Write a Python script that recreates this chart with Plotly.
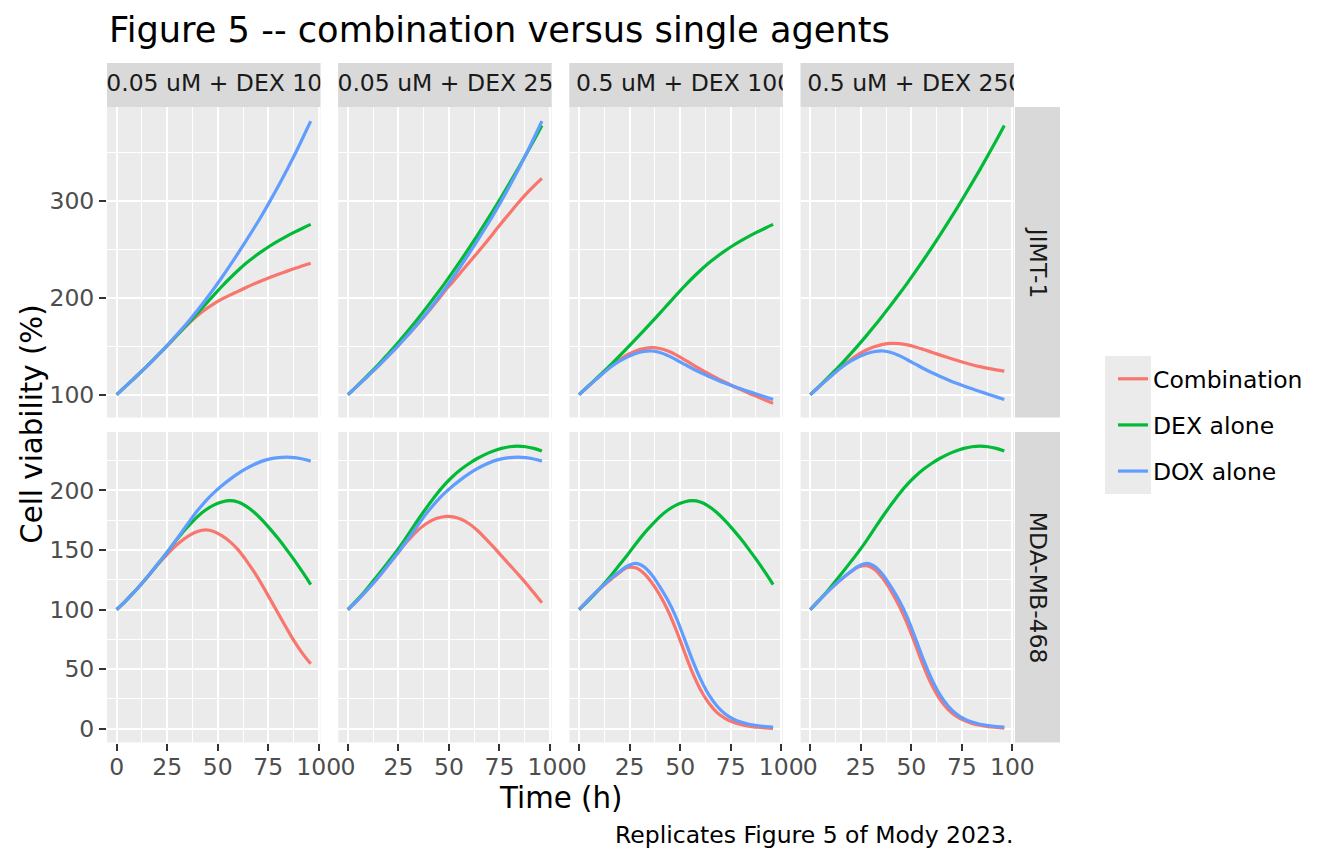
import plotly.graph_objects as go

# page has an 8px body margin; size the figure to fit the 1344x864 window
OFF = 8
W, H = 1344 - 2 * OFF, 864 - 2 * OFF

# ---------------- data ----------------
time_h = [0, 4, 8, 12, 16, 20, 24, 28, 32, 36, 40, 44, 48, 52, 56, 60, 64, 68, 72, 76, 80, 84, 88, 92, 96]

treatments = ["DOX 0.05 uM + DEX 100 nM", "DOX 0.05 uM + DEX 250 nM",
              "DOX 0.5 uM + DEX 100 nM", "DOX 0.5 uM + DEX 250 nM"]
cell_lines = ["JIMT-1", "MDA-MB-468"]
series_names = ["Combination", "DEX alone", "DOX alone"]
series_colors = ["#F8766D", "#00BA38", "#619CFF"]

x_ticks = [0, 25, 50, 75, 100]
y_ticks_jimt = [100, 200, 300]
y_ticks_mda = [0, 50, 100, 150, 200]

# JIMT-1
jimt_dox_005 = [100, 107.7, 115.5, 123.4, 131.5, 139.9, 148.5, 157.6, 167, 176.8, 187, 197.8, 209,
                220.8, 233, 245.6, 258.5, 271.8, 285.5, 300, 315, 330.8, 347, 364.3, 382]
jimt_dox_05 = [100, 107.7, 115, 122.3, 129, 134.5, 139, 142.4, 144.5, 145, 143.5, 140.2, 136,
               131.5, 127, 122.8, 119, 115.4, 112, 108.9, 106, 103.2, 100.5, 97.7, 95]
jimt_dex_100 = [100, 107.7, 115.5, 123.4, 131.5, 139.9, 148.5, 157.2, 166, 175, 184, 193.3, 202.5,
                211.5, 220, 228, 235.5, 242, 248, 253.5, 258.5, 263.2, 267.5, 271.6, 275.5]
jimt_dex_250 = [100, 107.8, 116, 124.4, 133, 142.2, 151.6, 161.4, 171.5, 182, 192.7, 203.7, 215,
                226.8, 238.8, 251.2, 264, 277, 290.3, 304, 318, 332.3, 347, 362, 377.5]
jimt_combo_1 = [100, 107.7, 115.5, 123.4, 131.5, 139.8, 148.2, 157, 165.8, 174, 181.5, 188, 193.6,
                198.4, 202.6, 206.5, 210.5, 214.2, 217.7, 221, 224.1, 227.1, 230, 232.8, 235.5]
jimt_combo_2 = [100, 107.7, 115.5, 123.4, 131.5, 139.9, 148.5, 157.5, 166.7, 176.2, 186, 196.2, 207,
                216.5, 226.5, 236.3, 246, 256, 266.5, 277, 287, 297, 306.5, 315, 323]
jimt_combo_3 = [100, 107.7, 115, 122.5, 129.8, 136, 141.2, 145, 147.4, 148.4, 147.6, 145, 141,
                136.2, 131.2, 126.3, 121.7, 117.2, 113, 109, 105.2, 101.5, 98, 94.5, 91]
jimt_combo_4 = [100, 107.7, 115, 122.3, 129.3, 136, 141.8, 146.3, 149.6, 151.8, 152.8, 152.6, 151.3,
                149.2, 146.6, 143.8, 141, 138.3, 135.7, 133.2, 130.9, 128.9, 127.1, 125.5, 124.2]

# MDA-MB-468
mda_dox_005 = [100, 106.5, 113.5, 121, 129, 137.5, 146, 155, 164.5, 174, 183, 191, 197.8,
               203.8, 209.2, 214, 218.2, 221.7, 224.5, 226.4, 227.5, 227.8, 227.5, 226.3, 224.5]
mda_dox_05 = [100, 107, 114, 120.5, 126.5, 131.8, 136.5, 138.7, 136, 129, 119, 107.5, 93.5,
              76, 58, 42, 29, 19.5, 12.8, 8.4, 5.6, 3.8, 2.7, 1.9, 1.4]
mda_dex_100 = [100, 106.5, 113.5, 121, 129, 137.5, 146, 155, 163.5, 171, 178, 183.5, 187.6,
               190.2, 191.3, 190.2, 186.8, 181.6, 175, 167.5, 159.3, 150.5, 141.2, 131.3, 121]
mda_dex_250 = [100, 107, 114.5, 122.8, 131.3, 140, 148.8, 158.3, 168.5, 178.5, 188, 197, 205,
               211.8, 217.6, 222.5, 226.7, 230.2, 233, 235.2, 236.6, 237.1, 236.6, 235.2, 233]
mda_combo_1 = [100, 106.5, 113.5, 121, 129, 137, 144.5, 151.5, 157.5, 162.3, 165.5, 166.8, 165.5,
               162, 157, 150.3, 141.5, 131.5, 120.5, 108.5, 96.5, 84.5, 73, 63, 54.5]
mda_combo_2 = [100, 106.5, 113.5, 121, 129, 137.5, 146, 154.5, 162, 168.5, 173.3, 176.5, 178,
               177.8, 175.8, 172, 166.5, 159.7, 152.5, 145, 137.5, 130, 122.3, 114, 105.6]
mda_combo_3 = [100, 107, 113.8, 120, 125.7, 131, 135.3, 135, 130.5, 122.5, 112, 99, 83,
               65, 47.5, 33, 22, 14, 9, 5.6, 3.5, 2.1, 1.3, 0.7, 0.3]
mda_combo_4 = [100, 107, 114, 120.3, 126.2, 131.5, 135.8, 136.8, 133.5, 125.8, 115.5, 103, 88,
               70.5, 52.5, 37, 25, 16.5, 10.8, 7, 4.5, 2.9, 1.8, 1.1, 0.5]

panels = {
    (0, 0): [jimt_combo_1, jimt_dex_100, jimt_dox_005],
    (0, 1): [jimt_combo_2, jimt_dex_250, jimt_dox_005],
    (0, 2): [jimt_combo_3, jimt_dex_100, jimt_dox_05],
    (0, 3): [jimt_combo_4, jimt_dex_250, jimt_dox_05],
    (1, 0): [mda_combo_1, mda_dex_100, mda_dox_005],
    (1, 1): [mda_combo_2, mda_dex_250, mda_dox_005],
    (1, 2): [mda_combo_3, mda_dex_100, mda_dox_05],
    (1, 3): [mda_combo_4, mda_dex_250, mda_dox_05],
}

# ---------------- layout geometry (window pixels) ----------------
FONT = "DejaVu Sans"
col_left = [107, 338.2, 569.4, 800.6]
panel_w = 213.4
row_top = [107, 432]
panel_h = 310.5
strip_top, strip_h = 63, 44
rstrip_w = 45

FS_SMALL = 23.5
FS_AXIS = 29.3
FS_TITLE = 35.2


def fx(px):
    return (px - OFF) / W


def fy(py):
    return 1 - (py - OFF) / H


def expand(vals, mult=0.05):
    lo, hi = min(vals), max(vals)
    d = (hi - lo) * mult
    return [lo - d, hi + d]


x_range = expand(time_h)
row_vals = [[], []]
for (r, c), ser in panels.items():
    for s in ser:
        row_vals[r].extend(s)
y_ranges = [expand(row_vals[0]), expand(row_vals[1])]
y_ticks = [y_ticks_jimt, y_ticks_mda]
y_minor = [50, 25]

fig = go.Figure()
layout = dict(
    width=W, height=H,
    margin=dict(l=0, r=0, t=0, b=0, autoexpand=False),
    paper_bgcolor="white",
    plot_bgcolor="#EBEBEB",
    font=dict(family=FONT, color="#000000"),
    showlegend=True,
)

shapes = []
annotations = []

GRID_MAJ = 2.3
GRID_MIN = 1.15

for r in range(2):
    for c in range(4):
        n = r * 4 + c + 1
        xa = "xaxis" if n == 1 else f"xaxis{n}"
        ya = "yaxis" if n == 1 else f"yaxis{n}"
        xs = "x" if n == 1 else f"x{n}"
        ysn = "y" if n == 1 else f"y{n}"
        x0 = col_left[c]
        y0 = row_top[r]
        layout[xa] = dict(
            domain=[fx(x0), fx(x0 + panel_w)], anchor=ysn, range=x_range,
            tickvals=x_ticks, showticklabels=(r == 1), ticklabelstandoff=-4,
            ticks="outside" if r == 1 else "", ticklen=7, tickwidth=2, tickcolor="#333333",
            tickfont=dict(size=FS_SMALL, color="#4D4D4D", family=FONT),
            showgrid=True, gridcolor="white", gridwidth=GRID_MAJ,
            minor=dict(dtick=12.5, tick0=0, showgrid=True, gridcolor="white", gridwidth=GRID_MIN),
            zeroline=False, showline=False, fixedrange=True,
        )
        layout[ya] = dict(
            domain=[fy(y0 + panel_h), fy(y0)], anchor=xs, range=y_ranges[r],
            tickvals=y_ticks[r], showticklabels=(c == 0),
            ticks="outside" if c == 0 else "", ticklen=7, tickwidth=2, tickcolor="#333333",
            tickfont=dict(size=FS_SMALL, color="#4D4D4D", family=FONT),
            showgrid=True, gridcolor="white", gridwidth=GRID_MAJ,
            minor=dict(dtick=y_minor[r], tick0=0, showgrid=True, gridcolor="white", gridwidth=GRID_MIN),
            zeroline=False, showline=False, fixedrange=True,
        )
        for k, (name, color) in enumerate(zip(series_names, series_colors)):
            fig.add_trace(go.Scatter(
                x=time_h, y=panels[(r, c)][k], mode="lines",
                line=dict(color=color, width=3.2, shape="spline", smoothing=1.0),
                name=name, legendgroup=name, showlegend=(n == 1),
                xaxis=xs, yaxis=ysn, hoverinfo="skip",
            ))

# top strips as small subplots so the label is clipped to the strip (as in the reference)
for c in range(4):
    n = 9 + c
    x0 = col_left[c]
    layout[f"xaxis{n}"] = dict(domain=[fx(x0), fx(x0 + panel_w)], anchor=f"y{n}", range=[0, 1],
                               visible=False, fixedrange=True)
    layout[f"yaxis{n}"] = dict(domain=[fy(strip_top + strip_h), fy(strip_top)], anchor=f"x{n}",
                               range=[0, 1], visible=False, fixedrange=True)
    shapes.append(dict(type="rect", xref="paper", yref="paper",
                       x0=fx(x0), x1=fx(x0 + panel_w), y0=fy(strip_top + strip_h), y1=fy(strip_top),
                       fillcolor="#D9D9D9", line=dict(width=0), layer="below"))
    fig.add_trace(go.Scatter(
        x=[0.5], y=[0.5], mode="text", text=[treatments[c]], textposition="middle center",
        textfont=dict(size=FS_SMALL, color="#1A1A1A", family=FONT), cliponaxis=True,
        xaxis=f"x{n}", yaxis=f"y{n}", showlegend=False, hoverinfo="skip",
    ))

# right strips
rx0 = col_left[3] + panel_w + 1
for r in range(2):
    shapes.append(dict(type="rect", xref="paper", yref="paper",
                       x0=fx(rx0), x1=fx(rx0 + rstrip_w), y0=fy(row_top[r] + panel_h), y1=fy(row_top[r]),
                       fillcolor="#D9D9D9", line=dict(width=0), layer="below"))
    annotations.append(dict(text=cell_lines[r], x=fx(rx0 + rstrip_w / 2), y=fy(row_top[r] + panel_h / 2),
                            xref="paper", yref="paper", showarrow=False, textangle=90,
                            font=dict(size=FS_SMALL, color="#1A1A1A", family=FONT),
                            xanchor="center", yanchor="middle"))

# legend key background
shapes.append(dict(type="rect", xref="paper", yref="paper",
                   x0=fx(1105), x1=fx(1151), y0=fy(494), y1=fy(356),
                   fillcolor="#EBEBEB", line=dict(width=0), layer="below"))

# titles
annotations.append(dict(text="Figure 5 -- combination versus single agents", x=fx(107), y=fy(30),
                        xref="paper", yref="paper", showarrow=False, xanchor="left", yanchor="middle",
                        font=dict(size=FS_TITLE, color="#000000", family=FONT)))
annotations.append(dict(text="Time (h)", x=fx((col_left[0] + col_left[3] + panel_w) / 2), y=fy(798),
                        xref="paper", yref="paper", showarrow=False, xanchor="center", yanchor="middle",
                        font=dict(size=FS_AXIS, color="#000000", family=FONT)))
annotations.append(dict(text="Cell viability (%)", x=fx(32), y=fy((row_top[0] + row_top[1] + panel_h) / 2),
                        xref="paper", yref="paper", showarrow=False, textangle=-90,
                        xanchor="center", yanchor="middle",
                        font=dict(size=FS_AXIS, color="#000000", family=FONT)))
annotations.append(dict(text="Replicates Figure 5 of Mody 2023.", x=fx(1015), y=fy(835),
                        xref="paper", yref="paper", showarrow=False, xanchor="right", yanchor="middle",
                        font=dict(size=FS_SMALL, color="#000000", family=FONT)))

layout["shapes"] = shapes
layout["annotations"] = annotations
layout["legend"] = dict(x=fx(1113), y=fy(425), xanchor="left", yanchor="middle",
                        bgcolor="rgba(0,0,0,0)", borderwidth=0, tracegroupgap=12.6,
                        font=dict(size=FS_SMALL, color="#000000", family=FONT),
                        itemclick=False, itemdoubleclick=False)
layout["hovermode"] = False

fig.update_layout(**layout)
fig.write_html("out.html", config={"displayModeBar": False})
